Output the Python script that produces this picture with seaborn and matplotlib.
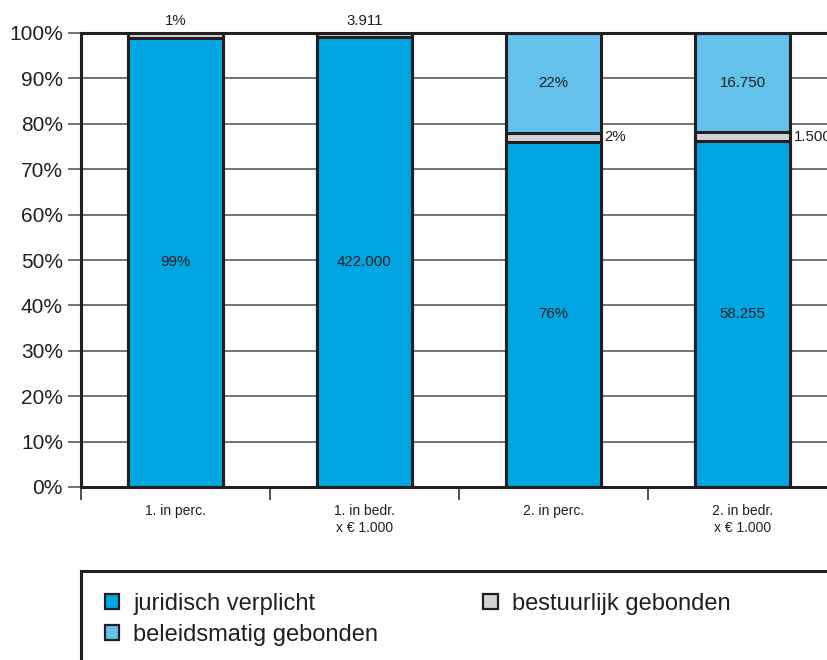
import numpy as np
import pandas as pd
import matplotlib.pyplot as plt
from matplotlib.patches import Patch
import seaborn as sns

# values per column: juridisch verplicht, bestuurlijk gebonden, beleidsmatig gebonden
categories = ["1. in perc.", "1. in bedr.\nx € 1.000", "2. in perc.", "2. in bedr.\nx € 1.000"]
juridisch = [99, 422000, 76, 58255]
bestuurlijk = [1, 3911, 2, 1500]
beleidsmatig = [0, 0, 22, 16750]
label_jur = ["99%", "422.000", "76%", "58.255"]
label_best = ["1%", "3.911", "2%", "1.500"]
label_bel = ["", "", "22%", "16.750"]
series = ["juridisch verplicht", "beleidsmatig gebonden", "bestuurlijk gebonden"]

c_jur = "#00a6e2"
c_best = "#d1d3d4"
c_bel = "#64c1ec"
dark = "#231f20"

total = np.array(juridisch, float) + np.array(bestuurlijk) + np.array(beleidsmatig)
p_jur = np.array(juridisch) / total * 100
p_best = np.array(bestuurlijk) / total * 100
p_bel = np.array(beleidsmatig) / total * 100

df = pd.DataFrame({
    "categorie": categories,
    "jur": p_jur,
    "jur_best": p_jur + p_best,
    "all": p_jur + p_best + p_bel,
})

sns.set_theme(style="white")
plt.rcParams["font.family"] = ["Liberation Sans", "DejaVu Sans"]
plt.rcParams["text.color"] = dark

fig = plt.figure(figsize=(8.28, 6.6), dpi=100)
ax = fig.add_axes([81 / 828, 1 - 487 / 660, 756 / 828, 454 / 660])

# stacked bars drawn as overlapping cumulative bars
bar_kw = dict(x="categorie", width=0.5, edgecolor=dark, linewidth=2.2,
              saturation=1, ax=ax)
sns.barplot(data=df, y="all", color=c_bel, **bar_kw)
sns.barplot(data=df, y="jur_best", color=c_best, **bar_kw)
sns.barplot(data=df, y="jur", color=c_jur, **bar_kw)

ax.set_xlim(-0.5, 3.5)
ax.set_ylim(0, 100)
ax.set_xlabel("")
ax.set_ylabel("")
ax.set_axisbelow(True)

ax.set_yticks(np.arange(0, 101, 10))
ax.set_yticklabels([f"{v}%" for v in range(0, 101, 10)], fontsize=15, color=dark)
ax.yaxis.grid(True, color="#4d4d4d", linewidth=1.1)
ax.tick_params(axis="y", left=True, length=9.5, width=1.1, color="#4d4d4d", pad=3.5)

ax.set_xticks(range(4))
ax.set_xticklabels(categories, fontsize=10, color=dark, linespacing=1.3)
ax.tick_params(axis="x", which="major", length=0, pad=12)
ax.set_xticks([-0.5, 0.5, 1.5, 2.5, 3.5], minor=True)
ax.tick_params(axis="x", which="minor", bottom=True, length=9, width=1.1, color=dark)

for s in ["left", "top", "bottom", "right"]:
    ax.spines[s].set_color(dark)
    ax.spines[s].set_linewidth(2.2)

# value labels
for i in range(4):
    ax.text(i, p_jur[i] / 2, label_jur[i], ha="center", va="center", fontsize=10.8)
    if p_bel[i] > 0:
        ax.text(i, p_jur[i] + p_best[i] + p_bel[i] / 2, label_bel[i],
                ha="center", va="center", fontsize=10.8)
        ax.text(i + 0.27, p_jur[i] + p_best[i] / 2, label_best[i],
                ha="left", va="center", fontsize=10.8, clip_on=False)
    else:
        ax.text(i, 101.2, label_best[i], ha="center", va="bottom", fontsize=10.8,
                clip_on=False)

# legend box
box = fig.add_axes([81 / 828, -0.05, 1.0, (660 - 571) / 660 + 0.05])
box.set_xticks([])
box.set_yticks([])
box.patch.set_alpha(0)
for s in ["right", "bottom"]:
    box.spines[s].set_visible(False)
for s in ["left", "top"]:
    box.spines[s].set_color(dark)
    box.spines[s].set_linewidth(2.2)

colors = {"juridisch verplicht": c_jur, "beleidsmatig gebonden": c_bel,
          "bestuurlijk gebonden": c_best}
handles = [Patch(facecolor=colors[s], edgecolor=dark, linewidth=1.6) for s in series]
fig.legend(handles, series, ncol=2, loc="upper left",
           bbox_to_anchor=(105 / 828, 1 - 593 / 660), frameon=False, fontsize=17,
           handlelength=0.6, handleheight=0.6, handletextpad=0.6,
           labelspacing=0.38, columnspacing=4.45, borderpad=0, borderaxespad=0)

fig.savefig("out.png", dpi=100)
